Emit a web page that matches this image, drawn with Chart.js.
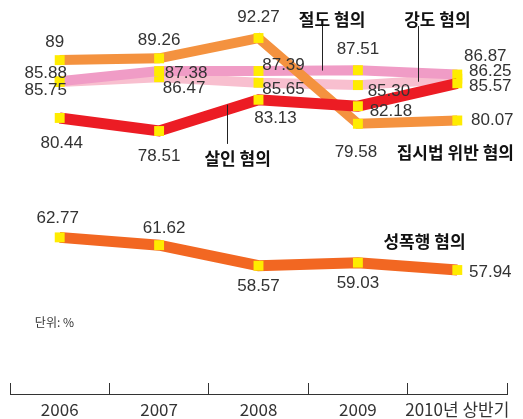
<!DOCTYPE html>
<html>
<head>
<meta charset="utf-8">
<script src="https://cdn.jsdelivr.net/npm/chart.js@4.4.1/dist/chart.umd.min.js"></script>
<style>
  html, body { margin: 0; padding: 0; background: #fff; }
  #wrap { width: 523px; height: 419px; position: relative; }
</style>
</head>
<body>
<div id="wrap"><canvas id="crimeChart"></canvas></div>
<script>
// 혐의별 구속률 (%)
var years = ['2006', '2007', '2008', '2009', '2010년 상반기'];
var assembly = [89, 89.26, 92.27, 79.58, 80.07];     // 집시법 위반 혐의
var theft = [85.88, 87.38, 87.39, 87.51, 86.87];     // 절도 혐의
var robbery = [85.75, 86.47, 85.65, 85.30, 86.25];   // 강도 혐의
var murder = [80.44, 78.51, 83.13, 82.18, 85.57];    // 살인 혐의
var rape = [62.77, 61.62, 58.57, 59.03, 57.94];      // 성폭행 혐의

// label offsets (px) from each point, per series
var offAssembly = [[-5, -18], [0, -18], [0, -21], [-2, 29], [35, 0]];
var offTheft = [[-14, -8], [27, 2], [25, -6], [0, -21], [28, -18]];
var offRobbery = [[-14, 8], [25, 11], [25, 7], [31, 6], [33, -7]];
var offMurder = [[2, 25], [0, 25], [17, 19], [33, 5], [33, 3]];
var offRape = [[-2, -19], [5, -17], [0, 21], [0, 21], [33, 2]];

function seriesLabels(chart) {
  var ctx = chart.ctx;
  ctx.save();
  ctx.font = '17px "Liberation Sans", Arial, sans-serif';
  ctx.fillStyle = '#333';
  ctx.textAlign = 'center';
  ctx.textBaseline = 'middle';
  chart.data.datasets.forEach(function(ds, i) {
    var meta = chart.getDatasetMeta(i);
    meta.data.forEach(function(pt, j) {
      var o = ds.labelOffsets[j];
      ctx.fillText(ds.data[j].toFixed(2).replace(/\.00$/, ''), pt.x + o[0], pt.y + o[1]);
    });
  });
  ctx.restore();
}

// series names in data space: text, x index, y value, leader x index, leader from/to values
var names = [
  { text: '절도 혐의', x: 2.74, y: 94.94, lx: 2.64, l1: 94.05, l2: 87.45 },
  { text: '강도 혐의', x: 3.80, y: 94.94, lx: 3.60, l1: 94.05, l2: 85.8 },
  { text: '살인 혐의', x: 1.79, y: 74.4, lx: 1.685, l1: 82.4, l2: 76.6 },
  { text: '집시법 위반 혐의', x: 3.98, y: 75.3 },
  { text: '성폭행 혐의', x: 3.67, y: 62.1 }
];

var annotate = {
  id: 'annotate',
  afterDatasetsDraw: function(chart) {
    var ctx = chart.ctx, x = chart.scales.x, y = chart.scales.y;
    function px(idx) { return x.getPixelForValue(0) + idx * (x.getPixelForValue(1) - x.getPixelForValue(0)); }
    ctx.save();
    ctx.strokeStyle = '#222';
    ctx.lineWidth = 1;
    names.forEach(function(n) {
      if (n.lx === undefined) return;
      var lx = Math.round(px(n.lx)) + 0.5;
      ctx.beginPath();
      ctx.moveTo(lx, y.getPixelForValue(n.l1));
      ctx.lineTo(lx, y.getPixelForValue(n.l2));
      ctx.stroke();
    });
    ctx.font = 'bold 17px "Noto Sans CJK KR", sans-serif';
    ctx.fillStyle = '#111';
    ctx.textAlign = 'center';
    ctx.textBaseline = 'middle';
    names.forEach(function(n) {
      ctx.fillText(n.text, px(n.x), y.getPixelForValue(n.y));
    });
    ctx.font = '12px "Noto Sans CJK KR", sans-serif';
    ctx.fillStyle = '#333';
    ctx.textAlign = 'left';
    ctx.fillText('단위: %', px(-0.25), y.getPixelForValue(50.25));
    seriesLabels(chart);
    // baseline below the upward ticks
    var by = chart.chartArea.bottom + 11.5;
    ctx.strokeStyle = '#333';
    ctx.beginPath();
    ctx.moveTo(chart.chartArea.left, by);
    ctx.lineTo(chart.chartArea.right + 0.5, by);
    ctx.stroke();
    ctx.restore();
  }
};

function line(label, data, color, width, offs) {
  return {
    label: label,
    data: data,
    borderColor: color,
    borderWidth: width,
    backgroundColor: '#FFEC00',
    pointStyle: 'rect',
    pointRadius: 7,
    pointBorderWidth: 0,
    pointBackgroundColor: '#FFEC00',
    fill: false,
    tension: 0,
    labelOffsets: offs
  };
}

new Chart(document.getElementById('crimeChart').getContext('2d'), {
  type: 'line',
  data: {
    labels: years,
    datasets: [
      line('살인 혐의', murder, '#EC1C24', 11, offMurder),
      line('집시법 위반 혐의', assembly, '#F4923F', 10, offAssembly),
      line('절도 혐의', theft, '#F09CC6', 10, offTheft),
      line('강도 혐의', robbery, '#F8BFCF', 10, offRobbery),
      line('성폭행 혐의', rape, '#F26722', 11, offRape)
    ]
  },
  options: {
    responsive: true,
    maintainAspectRatio: false,
    animation: false,
    layout: { padding: { left: 10, right: 16, top: 0, bottom: 0 } },
    plugins: { legend: { display: false }, tooltip: { enabled: false } },
    scales: {
      y: { display: false, min: 41.22, max: 96.86 },
      x: {
        offset: true,
        afterFit: function(s) { s.height = 36; },
        grid: { offset: true, drawOnChartArea: false, tickLength: 12, color: '#333', lineWidth: 1 },
        border: { display: false },
        ticks: {
          color: '#333', padding: 4, maxRotation: 0, minRotation: 0, autoSkip: false,
          font: { family: '"Noto Sans CJK KR", sans-serif', size: 17 }
        }
      }
    }
  },
  plugins: [annotate]
});
</script>
</body>
</html>
